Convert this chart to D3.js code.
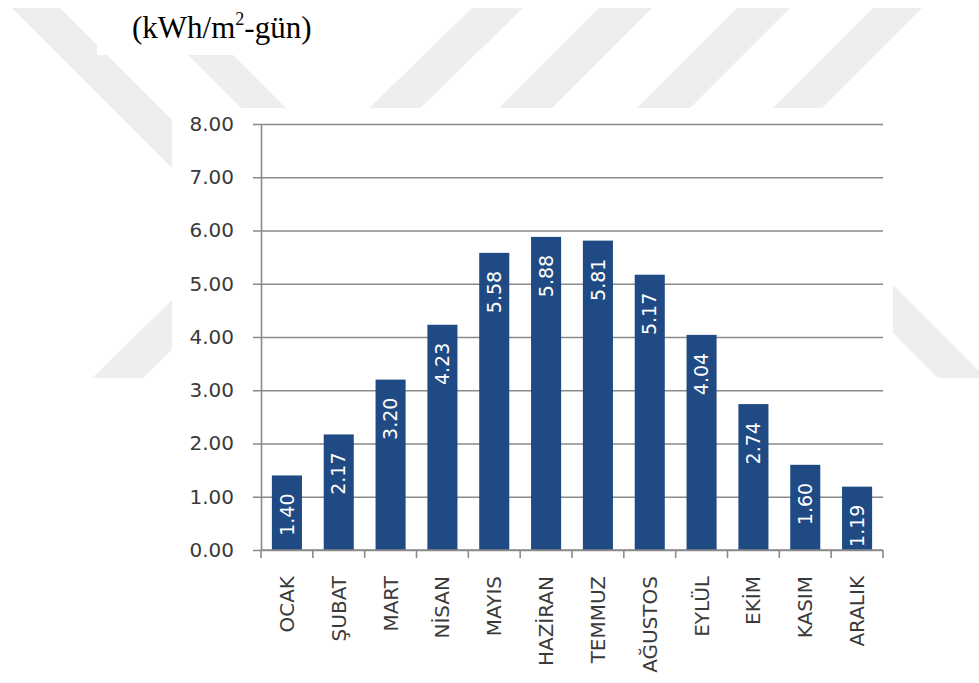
<!DOCTYPE html>
<html>
<head>
<meta charset="utf-8">
<script src="https://cdn.jsdelivr.net/npm/d3@7"></script>
<style>
  body { margin: 0; background: #fff; }
  svg { display: block; }
</style>
</head>
<body>
<svg width="979" height="683"></svg>
<script>
    // monthly solar radiation, kWh/m2-day
    var months = ["OCAK", "ŞUBAT", "MART", "NİSAN", "MAYIS", "HAZİRAN",
                  "TEMMUZ", "AĞUSTOS", "EYLÜL", "EKİM", "KASIM", "ARALIK"];
    var values = [1.40, 2.17, 3.20, 4.23, 5.58, 5.88, 5.81, 5.17, 4.04, 2.74, 1.60, 1.19];
    var yTicks = [0, 1, 2, 3, 4, 5, 6, 7, 8];

    // background watermark stripes (decoration only)
    var stripes = [
        [[12, 8], [60, 8], [300, 248], [252, 248]],
        [[141, 8], [186, 8], [426, 248], [381, 248]],
        [[472, 8], [523, 8], [143, 378], [92, 378]],
        [[599, 8], [652, 8], [402, 258], [349, 258]],
        [[737, 8], [790, 8], [540, 258], [487, 258]],
        [[873, 8], [922, 8], [672, 258], [623, 258]],
        [[680, 120], [728, 120], [986, 378], [938, 378]]
    ];

    var svg = d3.select("svg");
    var gridColor = "#8a8a8a";
    var textColor = "#3a3a3a";

    svg.append("g").selectAll("polygon")
        .data(stripes)
        .enter().append("polygon")
        .attr("points", function(d) { return d.join(" "); })
        .attr("fill", "#eeeeee");

    // white panels that sit over the watermark
    svg.append("rect").attr("x", 97).attr("y", 0).attr("width", 320).attr("height", 55).attr("fill", "#fff");
    svg.append("rect").attr("x", 172).attr("y", 108).attr("width", 721).attr("height", 575).attr("fill", "#fff");

    // unit label
    var title = svg.append("text")
        .attr("x", 132).attr("y", 38)
        .attr("font-family", "'Liberation Serif', 'Times New Roman', serif")
        .attr("font-size", 31)
        .attr("fill", "#000");
    title.append("tspan").text("(kWh/m");
    title.append("tspan").attr("font-size", 18).attr("dy", -13).text("2");
    title.append("tspan").attr("dy", 13).text("-gün)");

    var plotLeft = 261, plotRight = 883, plotTop = 124, plotBottom = 550;

    var x = d3.scaleBand()
        .domain(months)
        .range([plotLeft, plotRight])
        .paddingInner(0.42)
        .paddingOuter(0.21);

    var y = d3.scaleLinear()
        .domain([0, 8])
        .range([plotBottom, plotTop]);

    // gridlines, drawn from the right edge out past the axis
    var grid = svg.append("g")
        .attr("transform", "translate(" + plotRight + ",0)")
        .call(d3.axisLeft(y).tickValues(yTicks).tickSize(plotRight - plotLeft + 8).tickFormat(""));
    grid.select(".domain").remove();
    grid.selectAll("line").attr("stroke", gridColor).attr("stroke-width", 1.6);

    // y axis
    var yAxis = svg.append("g")
        .attr("transform", "translate(" + plotLeft + ",0)")
        .call(d3.axisLeft(y).tickValues(yTicks).tickSize(0).tickPadding(27).tickFormat(d3.format(".2f")));
    yAxis.select(".domain").attr("stroke", gridColor).attr("stroke-width", 1.6);
    yAxis.selectAll("text")
        .attr("font-family", "'DejaVu Sans', Verdana, sans-serif")
        .attr("font-size", 20)
        .attr("fill", textColor);

    // bars
    svg.append("g").selectAll("rect")
        .data(values)
        .enter().append("rect")
        .attr("x", function(d, i) { return x(months[i]); })
        .attr("y", function(d) { return y(d); })
        .attr("width", x.bandwidth())
        .attr("height", function(d) { return y(0) - y(d); })
        .attr("fill", "#1f4a84");

    // x axis line and ticks at category boundaries
    var xAxis = svg.append("g");
    xAxis.append("line")
        .attr("x1", plotLeft).attr("x2", plotRight)
        .attr("y1", plotBottom).attr("y2", plotBottom)
        .attr("stroke", gridColor).attr("stroke-width", 1.6);
    var gap = (x.step() - x.bandwidth()) / 2;
    var bounds = months.map(function(m) { return x(m) - gap; }).concat([plotRight]);
    xAxis.selectAll("line.tick")
        .data(bounds)
        .enter().append("line")
        .attr("class", "tick")
        .attr("x1", function(d) { return d; }).attr("x2", function(d) { return d; })
        .attr("y1", plotBottom).attr("y2", plotBottom + 8)
        .attr("stroke", gridColor).attr("stroke-width", 1.6);

    xAxis.selectAll("text")
        .data(months)
        .enter().append("text")
        .attr("transform", function(d) {
            return "translate(" + (x(d) + x.bandwidth() / 2) + "," + 576 + ") rotate(-90)";
        })
        .attr("dy", "0.35em")
        .attr("text-anchor", "end")
        .attr("font-family", "'DejaVu Sans', Verdana, sans-serif")
        .attr("font-size", 20)
        .attr("fill", textColor)
        .text(function(d) { return d; });

    // value labels inside the bars
    svg.append("g").selectAll("text")
        .data(values)
        .enter().append("text")
        .attr("transform", function(d, i) {
            return "translate(" + (x(months[i]) + x.bandwidth() / 2) + "," + (y(d) + 18) + ") rotate(-90)";
        })
        .attr("dy", "0.35em")
        .attr("text-anchor", "end")
        .attr("font-family", "'DejaVu Sans', Verdana, sans-serif")
        .attr("font-size", 19)
        .attr("fill", "#fff")
        .text(function(d) { return d.toFixed(2); });
</script>
</body>
</html>
